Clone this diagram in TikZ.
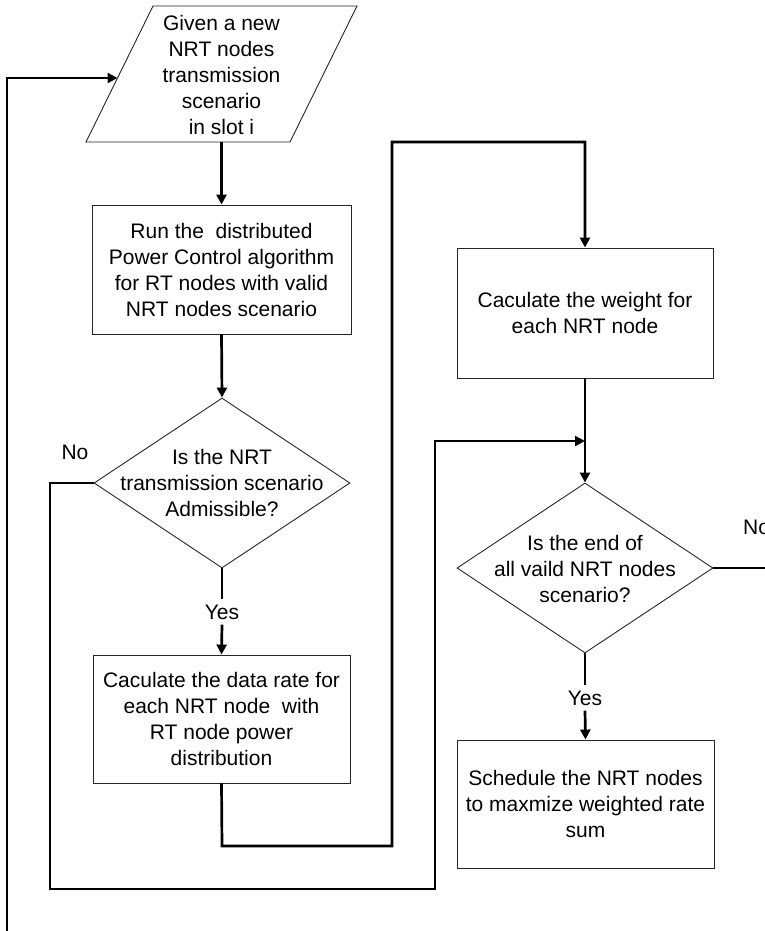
\documentclass[tikz,border=0pt]{standalone}
\usepackage{fontspec}
\setmainfont{Liberation Sans}
\usetikzlibrary{shapes.geometric,arrows.meta}
\begin{document}
\begin{tikzpicture}[x=1pt,y=-1pt,
  every node/.style={font=\fontsize{21}{26}\selectfont, align=center, inner sep=0pt},
  stepbox/.style={draw=black!85, line width=0.9pt, minimum width=257, minimum height=129},
  decision/.style={diamond, draw=black!85, line width=0.9pt, minimum width=256, minimum height=170},
  shapeline/.style={draw=black!85, line width=0.9pt},
  conn/.style={draw=black, line width=2.7pt},
  arr/.style={conn, -{Triangle[length=10pt,width=10pt]}},
  lbl/.style={inner sep=5pt}]
\useasboundingbox (0,0) rectangle (765,931);
\clip (0,0) rectangle (765,931);
% parallelogram
\coordinate (p1) at (153,6);
\coordinate (p2) at (357,6);
\coordinate (p3) at (290,142);
\coordinate (p4) at (86,142);
\draw[shapeline] (p1) -- (p2) -- (p3) -- (p4) -- cycle;
\node (p) at (221.5,75) {Given a new\\NRT nodes\\transmission\\scenario\\in slot i};
\coordinate (pb) at (221.5,142);
\coordinate (pl) at (117.5,78);
% boxes
\node[stepbox, minimum width=259] (b1) at (221.5,269.5) {Run the\ \ distributed\\Power Control algorithm\\for RT nodes with valid\\NRT nodes scenario};
\node[decision] (d1) at (222,483) {};
\node (d1t) at (222,483) {Is the NRT\\transmission scenario\\Admissible?};
\node[stepbox, minimum height=128] (b2) at (221.5,719) {Caculate the data rate for\\each NRT node\ \ with\\RT node power\\distribution};
\node[stepbox, minimum width=256, minimum height=130] (b3) at (585,313) {Caculate the weight for\\each NRT node};
\node[decision] (d2) at (585,568) {};
\node (d2t) at (585,569) {Is the end of\\all vaild NRT nodes\\scenario?};
\node[stepbox, minimum height=128] (b4) at (585.5,804) {Schedule the NRT nodes\\to maxmize weighted rate\\sum};
% labels
\node[lbl] (y1) at (222,612) {Yes};
\node[lbl] (y2) at (585,698) {Yes};
\node (n1) at (75,452) {No};
\node[anchor=west] (n2) at (743,527) {No};
% connectors
\coordinate (lb) at (7,940);
\coordinate (lt) at (7,78);
\draw[arr] (lb) -- (lt) -- (pl);
\draw[arr] (pb) -- (b1.north);
\draw[arr] (b1.south) -- (d1.north);
\draw[conn] (d1.south) -- (y1.north);
\draw[arr] (y1.south) -- (b2.north);
\coordinate (ia) at (222,846);
\coordinate (ib) at (392,846);
\coordinate (ic) at (392,142);
\coordinate (id) at (585,142);
\draw[arr] (b2.south) -- (ia) -- (ib) -- (ic) -- (id) -- (b3.north);
\draw[arr] (b3.south) -- (d2.north);
\coordinate (oa) at (50,483);
\coordinate (ob) at (50,889);
\coordinate (oc) at (435,889);
\coordinate (od) at (435,441);
\coordinate (j) at (585,441);
\draw[arr] (d1.west) -- (oa) -- (ob) -- (oc) -- (od) -- (j);
\draw[conn] (d2.south) -- (y2.north);
\draw[arr] (y2.south) -- (b4.north);
\coordinate (re) at (780,568);
\draw[conn] (d2.east) -- (re);
\end{tikzpicture}
\end{document}
